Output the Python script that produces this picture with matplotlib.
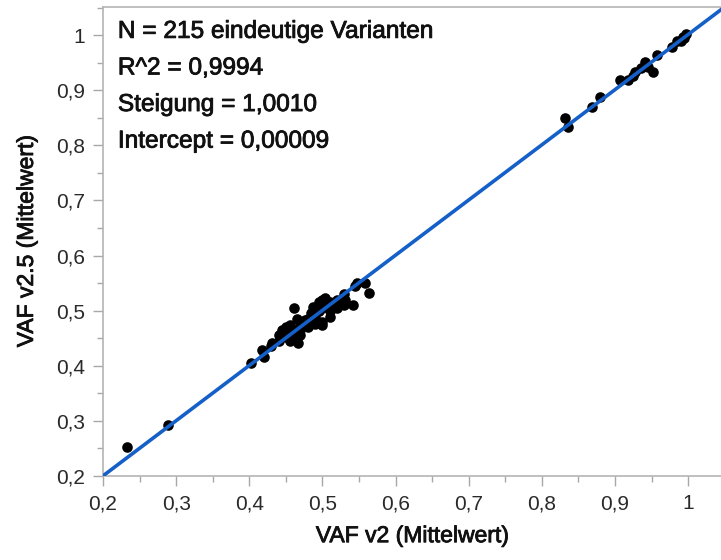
import matplotlib
matplotlib.use("Agg")
import matplotlib.pyplot as plt
import matplotlib.patheffects as pe
from matplotlib.ticker import FuncFormatter, MultipleLocator

plt.rcParams["font.family"] = ["Liberation Sans", "DejaVu Sans"]

# values (VAF v2 vs VAF v2.5, mean values)
vaf_v2 = [
    0.233, 0.289,
    0.402, 0.417, 0.420, 0.431, 0.445, 0.461, 0.467, 0.469, 0.476, 0.486,
    0.500, 0.504, 0.510, 0.524, 0.531, 0.542, 0.547, 0.558, 0.564, 0.456,
    0.487, 0.430, 0.440, 0.450, 0.455, 0.460, 0.470, 0.475, 0.480, 0.490,
    0.495, 0.500, 0.505, 0.510, 0.520, 0.530, 0.545, 0.440, 0.450, 0.460,
    0.470, 0.480, 0.490, 0.500, 0.500, 0.495, 0.510, 0.520, 0.530, 0.455,
    0.465, 0.485,
    0.832, 0.836, 0.869, 0.880, 0.907, 0.918, 0.928, 0.941, 0.945, 0.952,
    0.958, 0.978, 0.993, 0.997, 0.925, 0.935, 0.990, 0.995, 0.985,
]
vaf_v25 = [
    0.253, 0.293,
    0.405, 0.429, 0.416, 0.441, 0.465, 0.505, 0.441, 0.465, 0.483, 0.488,
    0.474, 0.523, 0.488, 0.514, 0.519, 0.510, 0.550, 0.550, 0.532, 0.474,
    0.507, 0.435, 0.445, 0.452, 0.460, 0.465, 0.472, 0.480, 0.485, 0.488,
    0.500, 0.505, 0.510, 0.515, 0.520, 0.530, 0.545, 0.455, 0.470, 0.450,
    0.455, 0.470, 0.475, 0.480, 0.520, 0.515, 0.500, 0.505, 0.510, 0.445,
    0.485, 0.495,
    0.849, 0.833, 0.869, 0.888, 0.918, 0.918, 0.933, 0.951, 0.942, 0.933,
    0.964, 0.978, 0.996, 1.002, 0.925, 0.940, 0.990, 0.995, 0.990,
]

slope = 1.0010
intercept = 0.00009
stats_lines = [
    "N = 215 eindeutige Varianten",
    "R^2 = 0,9994",
    "Steigung = 1,0010",
    "Intercept = 0,00009",
]

fig = plt.figure(figsize=(7.21, 5.6), dpi=100)
ax = fig.add_axes([0.1429, 0.15, 0.8571, 0.8375])

x0, x1 = 0.2, 1.045
ax.plot([x0, x1], [slope * x0 + intercept, slope * x1 + intercept],
        color="#1560c8", linewidth=2.6, zorder=3)
ax.scatter(vaf_v2, vaf_v25, s=58, color="black", zorder=2, linewidths=0)

ax.set_xlim(x0, x1)
ax.set_ylim(0.2, 1.051)

comma = FuncFormatter(lambda v, _: ("%g" % round(v, 2)).replace(".", ","))
for axis in (ax.xaxis, ax.yaxis):
    axis.set_major_locator(MultipleLocator(0.1))
    axis.set_minor_locator(MultipleLocator(0.05))
    axis.set_major_formatter(comma)

ax.tick_params(which="major", length=7, width=1, color="#a8a8a8",
               labelsize=15, labelcolor="#2a2a2a", pad=6)
ax.tick_params(which="minor", length=4, width=1, color="#a8a8a8")

for side in ("left", "bottom", "top"):
    ax.spines[side].set_color("#b4b4b4")
    ax.spines[side].set_linewidth(1.2)
ax.spines["right"].set_visible(False)

semi_bold = [pe.withStroke(linewidth=0.6, foreground="#111111")]
ax.set_xlabel("VAF v2 (Mittelwert)", fontsize=16.5, color="#111111",
              labelpad=8, path_effects=semi_bold)
ax.set_ylabel("VAF v2.5 (Mittelwert)", fontsize=16.5, color="#111111",
              labelpad=13, path_effects=semi_bold)

for i, line in enumerate(stats_lines):
    ax.text(0.024, 0.947 - i * 0.078, line, transform=ax.transAxes,
            fontsize=17.6, color="#111111", va="center", ha="left",
            path_effects=semi_bold)

fig.savefig("out.png", dpi=100)
